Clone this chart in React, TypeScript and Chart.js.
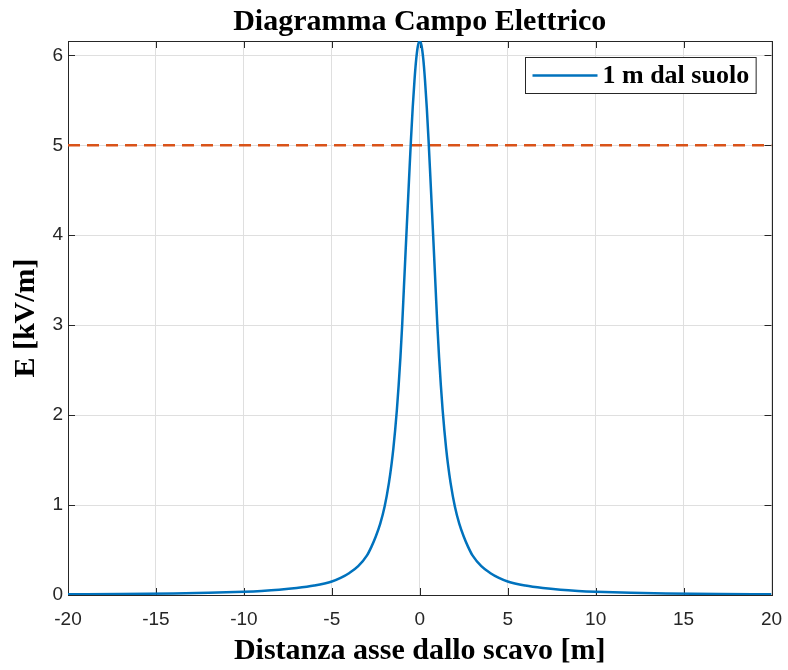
import React, { useEffect, useRef } from "react";
import { Chart, registerables } from "chart.js";

Chart.register(...registerables);

const TITLE = "Diagramma Campo Elettrico";
const X_LABEL = "Distanza asse dallo scavo [m]";
const Y_LABEL = "E [kV/m]";
const SERIES_LABEL = "1 m dal suolo";

const X_VALUES = [
  -20, -17, -14, -12, -10, -9, -8, -7, -6, -5, -4.5, -4, -3.5, -3, -2.75, -2.5, -2.25, -2, -1.75, -1.6, -1.5, -1.4,
  -1.3, -1.2, -1.1, -1, -0.9, -0.8, -0.7, -0.6, -0.5, -0.4, -0.3, -0.2, -0.1,
  0,
  0.1, 0.2, 0.3, 0.4, 0.5, 0.6, 0.7, 0.8, 0.9, 1, 1.1, 1.2, 1.3, 1.4, 1.5, 1.6, 1.75, 2, 2.25, 2.5, 2.75, 3,
  3.5, 4, 4.5, 5, 6, 7, 8, 9, 10, 12, 14, 17, 20,
];
const E_VALUES = [
  0.008, 0.011, 0.017, 0.024, 0.036, 0.045, 0.058, 0.077, 0.105, 0.15, 0.19, 0.245, 0.32, 0.44, 0.535, 0.65, 0.79, 0.98, 1.25, 1.46, 1.63, 1.83,
  2.06, 2.33, 2.64, 3.0, 3.42, 3.84, 4.25, 4.66, 5.06, 5.42, 5.72, 5.96, 6.11,
  6.16,
  6.11, 5.96, 5.72, 5.42, 5.06, 4.66, 4.25, 3.84, 3.42, 3.0, 2.64, 2.33, 2.06, 1.83, 1.63, 1.46, 1.25, 0.98, 0.79, 0.65, 0.535, 0.44,
  0.32, 0.245, 0.19, 0.15, 0.105, 0.077, 0.058, 0.045, 0.036, 0.024, 0.017, 0.011, 0.008,
];
const LIMIT_X = [-20, 20];
const LIMIT_VALUE = [5, 5];

const X_TICKS = [-20, -15, -10, -5, 0, 5, 10, 15, 20];
const Y_TICKS = [0, 1, 2, 3, 4, 5, 6];
const X_MIN = -20;
const X_MAX = 20;
const Y_MIN = 0;
const Y_MAX = 6.16;

const SERIF = '"Times New Roman", "Liberation Serif", serif';
const SANS = '"Liberation Sans", Arial, Helvetica, sans-serif';
const BLUE = "#0072BD";
const ORANGE = "#D95319";
const AXIS_COLOR = "#262626";
const GRID_COLOR = "#dfdfdf";

const framePlugin = {
  id: "frame",
  beforeDatasetsDraw(chart: any) {
    const { ctx, chartArea } = chart;
    const { left, right, top, bottom } = chartArea;
    const xs = chart.scales.x;
    const ys = chart.scales.y;
    const tl = 7;
    ctx.save();
    ctx.strokeStyle = AXIS_COLOR;
    ctx.lineWidth = 1;
    ctx.beginPath();
    xs.ticks.forEach((t: any) => {
      const px = Math.round(xs.getPixelForValue(t.value)) + 0.5;
      ctx.moveTo(px, bottom);
      ctx.lineTo(px, bottom - tl);
      ctx.moveTo(px, top);
      ctx.lineTo(px, top + tl);
    });
    ys.ticks.forEach((t: any) => {
      const py = Math.round(ys.getPixelForValue(t.value)) + 0.5;
      ctx.moveTo(left, py);
      ctx.lineTo(left + tl, py);
      ctx.moveTo(right, py);
      ctx.lineTo(right - tl, py);
    });
    ctx.stroke();
    ctx.strokeRect(Math.round(left) + 0.5, Math.round(top) + 0.5, Math.round(right - left), Math.round(bottom - top));
    ctx.restore();
  },
};

const legendPlugin = {
  id: "boxLegend",
  afterDatasetsDraw(chart: any) {
    const { ctx, chartArea } = chart;
    const ds = chart.data.datasets[0];
    const font = "bold 26px " + SERIF;
    ctx.save();
    ctx.font = font;
    const tw = ctx.measureText(ds.label).width;
    const padL = 7;
    const lineLen = 65;
    const gap = 5;
    const padR = 7;
    const h = 36;
    const w = padL + lineLen + gap + tw + padR;
    const x0 = Math.round(chartArea.right - 16 - w) + 0.5;
    const y0 = Math.round(chartArea.top + 16) + 0.5;
    ctx.fillStyle = "#ffffff";
    ctx.fillRect(x0, y0, w, h);
    ctx.strokeStyle = AXIS_COLOR;
    ctx.lineWidth = 1;
    ctx.strokeRect(x0, y0, w, h);
    const cy = y0 + h / 2;
    ctx.strokeStyle = ds.borderColor;
    ctx.lineWidth = ds.borderWidth;
    ctx.beginPath();
    ctx.moveTo(x0 + padL, cy);
    ctx.lineTo(x0 + padL + lineLen, cy);
    ctx.stroke();
    ctx.fillStyle = "#000000";
    ctx.textBaseline = "middle";
    ctx.textAlign = "left";
    ctx.fillText(ds.label, x0 + padL + lineLen + gap, cy + 1);
    ctx.restore();
  },
};

export default function App() {
  const canvasRef = useRef<HTMLCanvasElement | null>(null);

  useEffect(() => {
    const canvas = canvasRef.current;
    if (!canvas) return;
    const tickFont = { family: SANS, size: 19 };
    const titleFont = { family: SERIF, size: 30, weight: "bold" as const };
    const chart = new Chart(canvas, {
      type: "line",
      data: {
        datasets: [
          {
            label: SERIES_LABEL,
            data: X_VALUES.map((x, i) => ({ x, y: E_VALUES[i] })),
            borderColor: BLUE,
            backgroundColor: BLUE,
            borderWidth: 2.5,
            pointRadius: 0,
            cubicInterpolationMode: "monotone",
            fill: false,
          },
          {
            label: "limite",
            data: LIMIT_X.map((x, i) => ({ x, y: LIMIT_VALUE[i] })),
            borderColor: ORANGE,
            backgroundColor: ORANGE,
            borderWidth: 2.5,
            borderDash: [12, 7],
            pointRadius: 0,
            fill: false,
          },
        ],
      },
      options: {
        animation: false,
        responsive: false,
        maintainAspectRatio: false,
        devicePixelRatio: 1,
        layout: { padding: { top: 0, right: 16.5, bottom: 0, left: 0 } },
        plugins: {
          legend: { display: false },
          tooltip: { enabled: false },
          title: {
            display: true,
            text: TITLE,
            fullSize: false,
            color: "#000000",
            font: titleFont,
            padding: { top: 4, bottom: 1 },
          },
        },
        scales: {
          x: {
            type: "linear",
            min: X_MIN,
            max: X_MAX,
            afterBuildTicks: (s: any) => {
              s.ticks = X_TICKS.map((v) => ({ value: v }));
            },
            afterFit: (s: any) => {
              s.height = 75;
              s.paddingLeft = 0;
              s.paddingRight = 0;
            },
            grid: { color: GRID_COLOR, lineWidth: 1, drawTicks: false },
            border: { display: false },
            ticks: {
              font: tickFont,
              color: AXIS_COLOR,
              padding: 13,
              maxRotation: 0,
              autoSkip: false,
              callback: (v: any) => String(v),
            },
            title: {
              display: true,
              text: X_LABEL,
              color: "#000000",
              font: titleFont,
              padding: { top: 0, bottom: 1 },
            },
          },
          y: {
            type: "linear",
            min: Y_MIN,
            max: Y_MAX,
            afterBuildTicks: (s: any) => {
              s.ticks = Y_TICKS.map((v) => ({ value: v }));
            },
            afterFit: (s: any) => {
              s.width = 68;
              s.paddingTop = 0;
              s.paddingBottom = 0;
            },
            grid: { color: GRID_COLOR, lineWidth: 1, drawTicks: false },
            border: { display: false },
            ticks: {
              font: tickFont,
              color: AXIS_COLOR,
              padding: 5,
              autoSkip: false,
              callback: (v: any) => String(v),
            },
            title: {
              display: true,
              text: Y_LABEL,
              color: "#000000",
              font: titleFont,
              padding: { top: 8, bottom: 0 },
            },
          },
        },
      },
      plugins: [framePlugin, legendPlugin],
    });
    return () => chart.destroy();
  }, []);

  return (
    <div style={{ position: "fixed", left: 0, top: 0, width: 788, height: 670, background: "#ffffff" }}>
      <canvas ref={canvasRef} width={788} height={670} style={{ width: 788, height: 670, display: "block" }} />
    </div>
  );
}
